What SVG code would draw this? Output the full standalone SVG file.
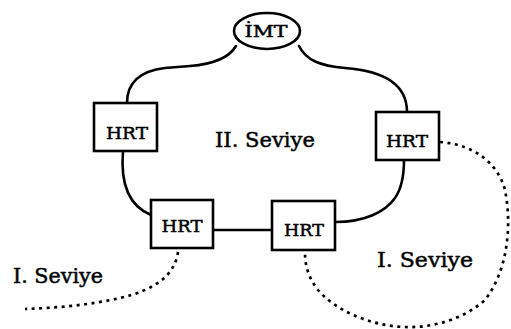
<svg xmlns="http://www.w3.org/2000/svg" width="511" height="329" viewBox="0 0 511 329">
  <style>
    .bg { fill: #ffffff; }
    .node rect, .node ellipse { fill: #ffffff; stroke: #000000; stroke-width: 2.6; }
    .tag { font-family: "DejaVu Serif", "Liberation Serif", serif; font-size: 17px; fill: #000000; stroke: #000000; stroke-width: 0.5; text-anchor: middle; }
    .level { font-family: "DejaVu Serif", "Liberation Serif", serif; font-size: 21px; fill: #000000; stroke: #000000; stroke-width: 0.5; }
    .ring { fill: none; stroke: #000000; stroke-width: 2.6; stroke-linecap: round; }
    .local { fill: none; stroke: #000000; stroke-width: 2.7; stroke-dasharray: 3 4.5; }
  </style>
  <rect class="bg" x="0" y="0" width="511" height="329"/>

  <!-- connectors: solid ring between the centres, dotted local branches -->
  <g id="connectors">
    <path class="ring" d="M236,46 C229,58 214,64 190,66 L165,68 C140,71 127,82 127,103"/>
    <path class="ring" d="M123,151 C121,175 124,204 151,215"/>
    <path class="ring" d="M213,230 L272,230"/>
    <path class="ring" d="M335,222 C365,222 385,212 395,198 C402,188 404,175 404,160"/>
    <path class="ring" d="M299,46 C306,60 320,66 345,68 C385,71 407,85 407,112"/>
    <path class="local" d="M440,142 C470,144 497,160 505,190 C512,225 508,270 485,300 C465,318 435,328 405,327 C370,326 335,310 318,290 C308,277 305,265 305,252"/>
    <path class="local" d="M178,252 C175,275 155,290 120,298 C90,305 55,308 25,309"/>
  </g>

  <g id="imt" class="node">
    <ellipse cx="267" cy="31" rx="33" ry="18"/>
    <text class="tag" x="266" y="37" font-size="13" textLength="43" lengthAdjust="spacingAndGlyphs">İMT</text>
  </g>

  <g id="hrt-left" class="node">
    <rect x="94" y="103" width="63" height="48"/>
    <text class="tag" x="127" y="139" textLength="42" lengthAdjust="spacingAndGlyphs">HRT</text>
  </g>

  <g id="hrt-right" class="node">
    <rect x="376" y="112" width="63" height="48"/>
    <text class="tag" x="407" y="147" textLength="42" lengthAdjust="spacingAndGlyphs">HRT</text>
  </g>

  <g id="hrt-bottom-left" class="node">
    <rect x="151" y="200" width="62" height="48"/>
    <text class="tag" x="182" y="232" textLength="41" lengthAdjust="spacingAndGlyphs">HRT</text>
  </g>

  <g id="hrt-bottom-right" class="node">
    <rect x="272" y="201" width="63" height="49"/>
    <text class="tag" x="304" y="236" textLength="40" lengthAdjust="spacingAndGlyphs">HRT</text>
  </g>

  <g id="labels">
    <text class="level" x="215" y="147" textLength="100" lengthAdjust="spacingAndGlyphs">II. Seviye</text>
    <text class="level" x="377" y="267" textLength="96" lengthAdjust="spacingAndGlyphs">I. Seviye</text>
    <text class="level" x="13" y="283" textLength="90" lengthAdjust="spacingAndGlyphs">I. Seviye</text>
  </g>
</svg>
